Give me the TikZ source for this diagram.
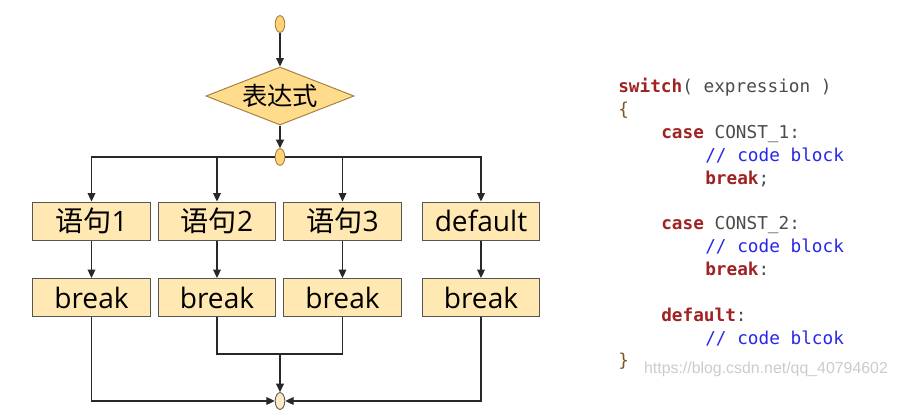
\documentclass[tikz,border=0pt]{standalone}
\usepackage{fontspec}
\setmainfont{Open Sans}
\newfontfamily\cjk{Noto Sans CJK SC}
\newfontfamily\codefont{DejaVu Sans Mono}
\newfontfamily\markfont{Liberation Sans}
\usetikzlibrary{shapes.geometric,arrows.meta}

\definecolor{linegray}{RGB}{40,40,40}
\definecolor{boxedge}{RGB}{85,85,85}
\definecolor{boxfill}{RGB}{255,232,178}
\definecolor{ovaltop}{RGB}{255,210,120}
\definecolor{ovaledge}{RGB}{160,125,60}
\definecolor{ovalend}{RGB}{252,234,200}
\definecolor{diafill}{RGB}{255,220,140}
\definecolor{diaedge}{RGB}{165,130,60}
\definecolor{kwred}{RGB}{160,35,35}
\definecolor{cmblue}{RGB}{40,40,235}
\definecolor{plain}{RGB}{75,75,75}
\definecolor{brace}{RGB}{125,85,40}

\newcommand\kw[1]{{\bfseries\color{kwred}#1}}
\newcommand\cm[1]{{\color{cmblue}#1}}

\tikzset{
  line/.style={draw=linegray, line width=0.8pt},
  arr/.style={line, -{Triangle[length=6pt,width=5.5pt]}},
  stmt/.style={draw=boxedge, fill=boxfill, line width=0.7pt, inner sep=0pt,
    minimum width=2.925cm, minimum height=0.95cm, font=\fontsize{20}{24}\selectfont},
  dot/.style={ellipse, draw=ovaledge, fill=ovaltop, line width=0.6pt, inner sep=0pt,
    minimum width=0.24cm, minimum height=0.42cm},
  test/.style={diamond, aspect=2.55, draw=diaedge, fill=diafill, line width=0.7pt,
    inner sep=0pt, minimum width=3.7cm, minimum height=1.45cm,
    font=\fontsize{18}{20}\selectfont},
  code/.style={anchor=base west, inner sep=0pt, text=plain,
    font=\codefont\fontsize{12.6}{15}\selectfont}
}

\begin{document}
\begin{tikzpicture}[x=0.025cm,y=-0.025cm]
\fill[white] (0,0) rectangle (897,416);
\useasboundingbox (0,0) rectangle (897,416);

% flow chart
\node[dot] (start) at (280,24) {};
\node[test] (expr) at (280,96) {{\cjk 表达式}};
\node[dot] (fork) at (280,157) {};

\node[stmt] (s1) at (91.5,221) {{\cjk 语句}1};
\node[stmt] (s2) at (217,221) {{\cjk 语句}2};
\node[stmt] (s3) at (342.5,221) {{\cjk 语句}3};
\node[stmt] (sd) at (481,221) {default};

\node[stmt] (b1) at (91.5,297.5) {break};
\node[stmt] (b2) at (217,297.5) {break};
\node[stmt] (b3) at (342.5,297.5) {break};
\node[stmt] (b4) at (481,297.5) {break};

\node[dot, draw=boxedge, fill=ovalend] (merge) at (280,401) {};
\coordinate (join) at (280,354);

\draw[arr] (start) -- (expr);
\draw[arr] (expr) -- (fork);
\draw[arr] (fork.west) -| (s1);
\draw[arr] (fork.west) -| (s2);
\draw[arr] (fork.east) -| (s3);
\draw[arr] (fork.east) -| (sd);
\foreach \a/\b in {s1/b1, s2/b2, s3/b3, sd/b4}
  \draw[arr] (\a) -- (\b);
\draw[arr] (b1) |- (merge);
\draw[arr] (b4) |- (merge);
\draw[line] (b2) |- (join) -| (b3);
\draw[arr] (join) -- (merge);

% code
\foreach \y/\x/\txt [count=\i] in {
  92/618/{\kw{switch}( expression )},
  115/618/{{\color{brace}\{}},
  138/661/{\kw{case} CONST\_1:},
  161/705/{\cm{// code block}},
  184/705/{\kw{break};},
  229/661/{\kw{case} CONST\_2:},
  252/705/{\cm{// code block}},
  275/705/{\kw{break}:},
  321/661/{\kw{default}:},
  344/705/{\cm{// code blcok}},
  366/618/{{\color{brace}\}}}}
  \node[code] (code\i) at (\x,\y) {\txt};

\node[text=gray!40, font=\markfont\fontsize{11.3}{13}\selectfont] (mark) at (766,369)
  {https://blog.csdn.net/qq\_40794602};
\end{tikzpicture}
\end{document}
